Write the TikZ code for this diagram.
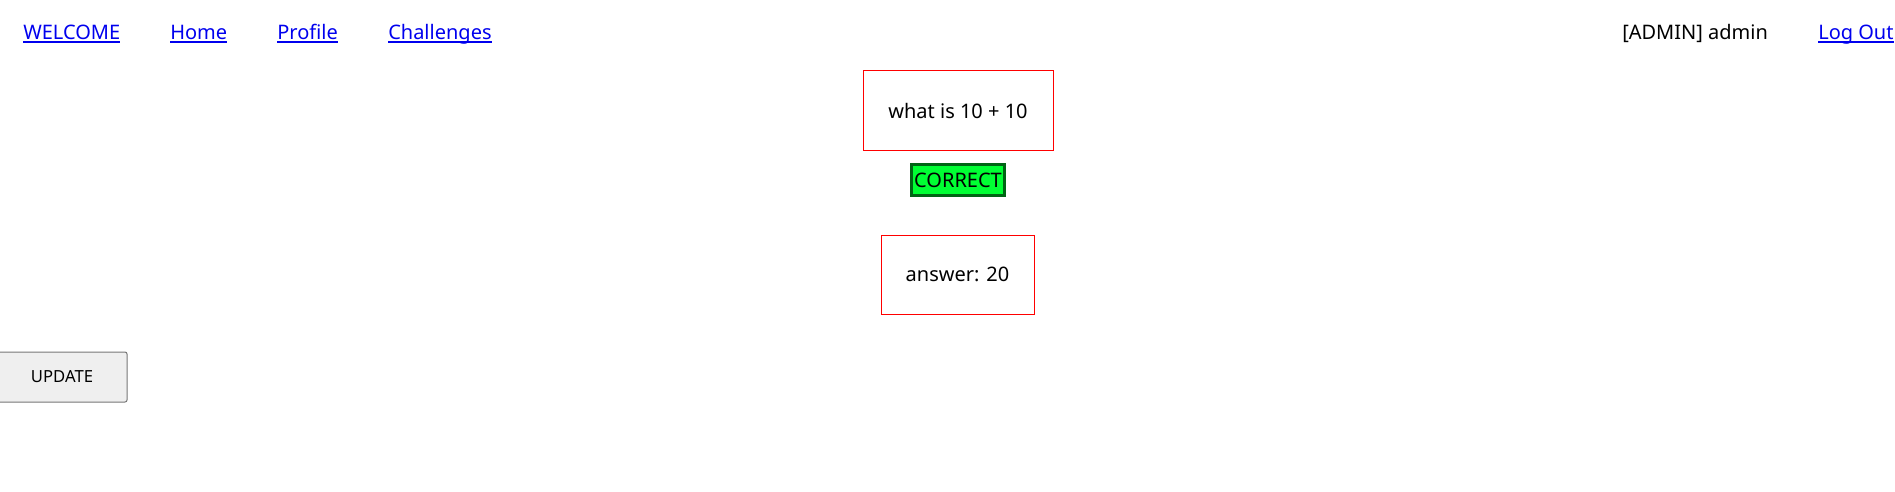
\documentclass[tikz,border=0pt]{standalone}
\usepackage{fontspec}
\setmainfont{Noto Sans}
\usetikzlibrary{positioning}

\definecolor{linkblue}{RGB}{0,0,238}
\definecolor{okgreen}{RGB}{0,255,51}
\definecolor{okborder}{RGB}{0,100,20}
\definecolor{btnfill}{RGB}{239,239,239}
\definecolor{btnborder}{RGB}{118,118,118}

\begin{document}
\begin{tikzpicture}[
  x=0.75pt, y=-0.75pt,
  navlink/.style={anchor=base west,inner sep=0pt,text=linkblue,font=\fontsize{15pt}{18pt}\selectfont},
  navtext/.style={anchor=base west,inner sep=0pt,text=black,font=\fontsize{15pt}{18pt}\selectfont},
  card/.style={draw=red,line width=0.75pt,minimum width=142.5pt,minimum height=59.25pt,inner sep=0pt,font=\fontsize{15pt}{18pt}\selectfont},
  okbadge/.style={draw=okborder,fill=okgreen,line width=2.25pt,minimum width=69.75pt,minimum height=23.25pt,inner sep=0pt,font=\fontsize{15pt}{18pt}\selectfont},
  btn/.style={draw=btnborder,fill=btnfill,rounded corners=1.5pt,line width=0.75pt,minimum width=97.5pt,minimum height=37.5pt,inner sep=0pt,font=\fontsize{12.5pt}{15pt}\selectfont}
]
\useasboundingbox (0,0) rectangle (1895,492);

% top bar
\node[navlink] (welcome) at (23,40) {WELCOME};
\node[navlink] (home) at (170,40) {Home};
\node[navlink] (profile) at (277,40) {Profile};
\node[navlink] (challenges) at (388,40) {Challenges};
\node[navtext] (user) at (1622,40) {[ADMIN] admin};
\node[navlink] (logout) at (1818,40) {Log Out};

\foreach \n in {welcome,home,profile,challenges,logout}
  \draw[linkblue, line width=1.1pt] ([yshift=-1.4pt]\n.base west) -- ([yshift=-1.4pt]\n.base east);

% question and answer
\node[card] (question) at (958,110.5) {what is 10 + 10};
\node[okbadge] (correct) at (958,180) {CORRECT};
\node[card, minimum width=114.75pt] (answer) at (957.5,274.5) {answer: 20};

% button
\node[btn] (update) at (62,377) {UPDATE};

\end{tikzpicture}
\end{document}
